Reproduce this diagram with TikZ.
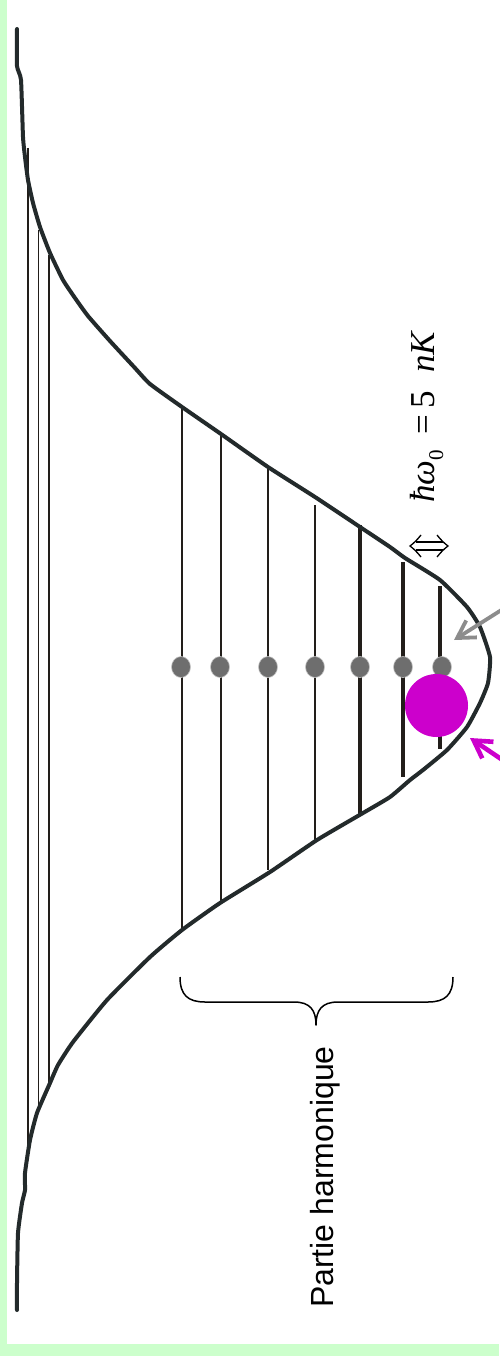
\documentclass[tikz,border=0pt]{standalone}
\usepackage{fontspec}
\newfontfamily\tnr{Liberation Serif}
\newfontfamily\arialf{Liberation Sans}
\usetikzlibrary{arrows.meta}
\definecolor{bggreen}{HTML}{CCFFCC}
\definecolor{curvecol}{HTML}{232A2B}
\definecolor{levelcol}{HTML}{221E1A}
\definecolor{dotcol}{HTML}{6E6E6E}
\definecolor{atomcol}{HTML}{CC00CC}
\definecolor{arrowgray}{HTML}{8C8C8C}
\begin{document}
\begin{tikzpicture}[x=1pt,y=-1pt,
  levelline/.style={draw=levelcol, line cap=butt},
  pot/.style={draw=curvecol, line width=4pt, line join=round, line cap=round},
  bec/.style={fill=dotcol, draw=gray!45, line width=0.6pt},
  pointer/.style={line width=#1, -{Straight Barb[length=17pt,width=20pt]}},
  bracestyle/.style={draw=black, line width=1.5pt, line join=round},
  dblarrow/.style={draw=black, line width=1.3pt, line join=miter}]
\useasboundingbox (0,0) rectangle (499,1356);
\fill[bggreen] (0,0) rectangle (499,1356);
\fill[white] (7,0) rectangle (499,1344);
% energy levels
\foreach \x/\a/\b/\w in {28/148/1147/2.4, 38.5/230/1110/1.0, 49/255/1083/2.2,
  182/408/930/2.2, 221/435/903/2.2, 268/468/870/2.2, 315/505/840/1.7,
  360/525/815/3.5, 403/562/777/3.8, 440/586/749/3.8}
  \draw[levelline, line width=\w pt] (\x,\a) -- (\x,\b);
% potential
\draw[pot] plot[smooth, tension=0.3] coordinates {
  (17,29) (17,66) (21,80) (23,137) (25,157) (28,180) (33,203) (40,227)
  (50,253) (63,280) (75,298) (88,316) (110,341) (135,368) (150,384)
  (182,407) (221,434) (268,467) (315,497) (360,527) (390,547) (405,558)
  (440,580) (467,607) (480,627) (490,657) (488,683) (480,703) (467,727)
  (447,750) (423,770) (410,780) (390,797) (363,813) (317,840) (270,872)
  (220,903) (182,930) (150,957) (107,1000) (73,1042) (58,1065) (50,1083)
  (37,1113) (30,1140) (25,1173) (25,1190) (22,1203) (18,1233) (17,1283)
  (17,1310)};
% condensate dots
\foreach \x in {181,220,268,315,360,403,442}
  \filldraw[bec] (\x,667) ellipse [x radius=9.5, y radius=10.5];
% atom
\fill[atomcol] (436.5,705.5) circle [radius=31.5];
% arrows
\coordinate (gs) at (503,609);
\coordinate (gt) at (454,640);
\draw[arrowgray, pointer=3.8pt] (gs) -- (gt);
\coordinate (ms) at (507,763);
\coordinate (mt) at (470,738);
\draw[atomcol, pointer=4.6pt] (ms) -- (mt);
% brace
\draw[bracestyle] (180,977) .. controls (180,995) and (188,1002) .. (205,1002)
  -- (294,1002) .. controls (310,1002) and (316,1010) .. (316,1025)
  .. controls (316,1010) and (322,1002) .. (338,1002)
  -- (428,1002) .. controls (445,1002) and (453,995) .. (453,977);
% double arrow (level spacing)
\draw[dblarrow] (421,535) .. controls (417,540) and (414,543) .. (410,546)
  .. controls (414,549) and (417,552) .. (421,557);
\draw[dblarrow] (437,535) .. controls (441,540) and (444,543) .. (448,546)
  .. controls (444,549) and (441,552) .. (437,557);
\draw[dblarrow] (415.5,542) -- (442.5,542);
\draw[dblarrow] (415.5,550) -- (442.5,550);
% labels
\node[rotate=90, anchor=base west, inner sep=0,
  font=\arialf\fontsize{32}{32}\selectfont] (ph) at (333,1308) {Partie harmonique};
\node[rotate=90, anchor=base west, inner sep=0,
  font=\tnr\fontsize{35}{35}\selectfont] (hw) at (434,503)
  {\textit{ħω}\raisebox{-9pt}{\fontsize{21}{21}\selectfont 0}\hspace{16pt}=\hspace{6pt}5\hspace{18pt}\textit{nK}};
\end{tikzpicture}
\end{document}
